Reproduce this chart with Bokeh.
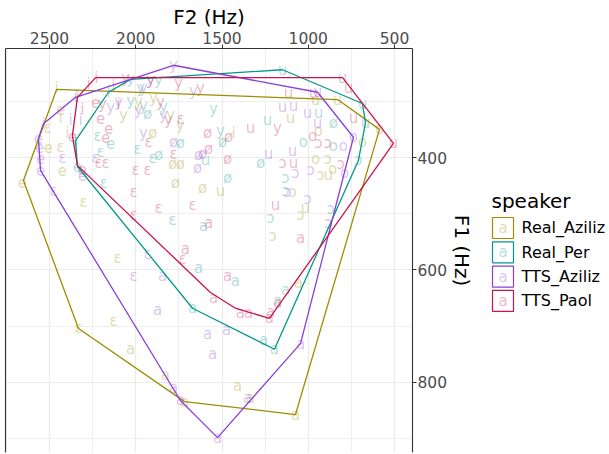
from bokeh.plotting import figure
from bokeh.models import Range1d, SingleIntervalTicker, ColumnDataSource, LinearAxis, FixedTicker
from bokeh.layouts import row
from bokeh.core.properties import value
from bokeh.embed import file_html
from bokeh.resources import INLINE

FONT = "DejaVu Sans"

speakers = ["Real_Aziliz", "Real_Per", "TTS_Aziliz", "TTS_Paol"]
colors = ["#A08C00", "#00998A", "#8C3FD6", "#C8144E"]

# ---- vowel tokens (label, F2 Hz, F1 Hz) ----
real_aziliz_vowel = ["i", "i", "i", "i", "e", "e", "e", "e", "ɛ", "ɛ", "ɛ", "ɛ", "ɛ", "ɛ",
                     "y", "y", "y", "y", "y", "ø", "ø", "ø", "ø", "ø",
                     "u", "u", "u", "u", "u", "u", "o", "o", "o", "o", "o",
                     "ɔ", "ɔ", "ɔ", "ɔ", "ɔ", "a", "a", "a", "a", "a", "a", "a"]
real_aziliz_f2 = [2459, 2436, 2396, 1433, 2436, 2506, 2425, 2657, 2512, 2436, 2303, 2106, 2129, 2332,
                  1984, 1897, 2071, 1799, 1741, 1903, 1787, 1741, 1770, 1613,
                  958, 830, 1103, 1509, 1016, 883, 941, 587, 686, 958, 859,
                  888, 929, 1091, 1045, 1207, 1057, 2030, 1828, 1717, 1410, 1335, 1074]
real_aziliz_f1 = [276, 329, 356, 356, 313, 382, 423, 443, 348, 382, 480, 578, 690, 704,
                  302, 295, 325, 325, 343, 356, 411, 411, 446, 455,
                  297, 297, 329, 459, 489, 432, 352, 350, 373, 402, 420,
                  402, 432, 462, 503, 539, 624, 740, 786, 834, 807, 828, 857]

real_per_vowel = ["i", "i", "e", "e", "ɛ", "ɛ", "ɛ", "ɛ", "ɛ", "ɛ",
                  "y", "y", "y", "y", "y", "y", "y", "y", "ø", "ø", "ø", "ø", "ø", "ø", "ø",
                  "u", "u", "u", "u", "u", "u", "o", "o", "ɔ", "ɔ", "ɔ", "ɔ", "ɔ",
                  "a", "a", "a", "a", "a", "a", "a", "a"]
real_per_f2 = [2349, 2158, 2146, 2338, 2204, 2222, 2187, 1990, 1903, 1787,
               2030, 1868, 1972, 2030, 1955, 1839, 1549, 1509, 1932, 1868, 1741, 1497, 1468, 1277, 854,
               1149, 1236, 941, 686, 668, 1596, 1028, 854, 709, 1132, 1132, 1219, 871,
               1607, 1636, 1422, 1132, 1671, 1259, 1196, 1178]
real_per_f1 = [370, 284, 375, 416, 391, 361, 446, 384, 400, 512,
               261, 263, 277, 299, 308, 311, 313, 352, 322, 396, 375, 373, 436, 409, 338,
               244, 334, 320, 304, 338, 405, 373, 379, 405, 436, 459, 508, 491,
               521, 596, 619, 636, 668, 725, 741, 655]

tts_aziliz_vowel = ["i", "i", "i", "i", "e", "e", "e", "e", "e", "ɛ", "ɛ", "ɛ", "ɛ", "ɛ",
                    "y", "y", "y", "y", "y", "y", "y", "y", "y", "ø", "ø", "ø", "ø",
                    "u", "u", "u", "u", "u", "u", "u", "o", "o", "o", "ɔ", "ɔ", "ɔ", "ɔ",
                    "a", "a", "a", "a", "a", "a", "a", "a", "a", "a"]
tts_aziliz_f2 = [2349, 2535, 2320, 2378, 2564, 2558, 2552, 2552, 2309, 2425, 2233, 2477, 1932, 2013,
                 1781, 1914, 1665, 1955, 2100, 2146, 1984, 1839, 1955, 1781, 1636, 1642, 1613,
                 946, 1149, 1086, 1004, 946, 1230, 1091, 738, 796, 790, 1074, 1120, 987, 1004,
                 1845, 1874, 1584, 1474, 1555, 1045, 1781, 1741, 1352, 1526]
tts_aziliz_f1 = [293, 340, 334, 334, 366, 382, 400, 423, 432, 400, 400, 459, 571, 610,
                 236, 263, 281, 277, 302, 311, 316, 325, 356, 373, 396, 418, 393,
                 284, 311, 308, 320, 338, 393, 388, 364, 379, 428, 428, 462, 423, 473,
                 610, 672, 713, 706, 749, 731, 809, 832, 827, 898]

tts_paol_vowel = ["i", "i", "i", "i", "i", "i", "e", "e", "e", "e", "e", "e",
                  "ɛ", "ɛ", "ɛ", "ɛ", "ɛ", "ɛ", "ɛ", "ɛ", "ɛ", "ɛ", "ɛ", "ɛ",
                  "y", "y", "y", "y", "y", "y", "y", "y", "ø", "ø", "ø", "ø",
                  "u", "u", "u", "u", "u", "u", "u", "u", "u", "o", "ɔ", "ɔ", "ɔ", "ɔ", "ɔ",
                  "a", "a", "a", "a", "a", "a", "a", "a", "a", "a"]
tts_paol_f2 = [2274, 2228, 2129, 2100, 2309, 2338, 2233, 2204, 2158, 2175, 2309, 2367,
               2216, 2175, 2001, 1932, 2013, 1868, 1671, 2013, 1729, 1741, 1781, 1926,
               2059, 1752, 1625, 1857, 2193, 1810, 1178, 1914, 1584, 1462, 1578, 1468,
               801, 767, 1115, 970, 738, 1335, 1086, 1190, 506, 975, 941, 888, 1149, 813, 883,
               1578, 1712, 1468, 1549, 1393, 1346, 1219, 1225, 1045, 1178]
tts_paol_f1 = [270, 258, 272, 304, 313, 293, 302, 329, 347, 364, 420, 361,
               409, 409, 423, 423, 462, 489, 485, 503, 580, 331, 393, 373,
               258, 267, 277, 302, 304, 334, 348, 263, 356, 364, 384, 402,
               258, 276, 286, 286, 329, 347, 409, 485, 375, 361, 375, 375, 409, 411, 517,
               517, 562, 610, 649, 677, 677, 675, 686, 544, 658]

# ---- convex hull outlines (F2 Hz, F1 Hz) ----
hull_real_aziliz_f2 = [2459, 830, 587, 1074, 1717, 2332, 2651]
hull_real_aziliz_f1 = [279, 297, 350, 857, 834, 704, 441]
hull_real_per_f2 = [2349, 2158, 2030, 1149, 686, 668, 709, 1196, 1671, 2338]
hull_real_per_f1 = [370, 284, 261, 244, 304, 338, 405, 741, 668, 416]
hull_tts_aziliz_f2 = [1781, 946, 738, 1045, 1526, 1741, 2552, 2564, 2535, 2349]
hull_tts_aziliz_f1 = [236, 284, 364, 731, 898, 832, 423, 366, 340, 293]
hull_tts_paol_f2 = [2233, 801, 506, 1225, 1422, 1567, 2338, 2367, 2338]
hull_tts_paol_f1 = [258, 258, 375, 686, 668, 640, 414, 361, 293]

tokens = [
    (real_aziliz_vowel, real_aziliz_f2, real_aziliz_f1),
    (real_per_vowel, real_per_f2, real_per_f1),
    (tts_aziliz_vowel, tts_aziliz_f2, tts_aziliz_f1),
    (tts_paol_vowel, tts_paol_f2, tts_paol_f1),
]
hulls = [
    (hull_real_aziliz_f2, hull_real_aziliz_f1),
    (hull_real_per_f2, hull_real_per_f1),
    (hull_tts_aziliz_f2, hull_tts_aziliz_f1),
    (hull_tts_paol_f2, hull_tts_paol_f1),
]

TXT_ALPHA = 0.33
H = 454

p = figure(width=480, height=H,
           x_range=Range1d(2755.1, 395.7), y_range=Range1d(924.5, 206.2),
           x_axis_location="above", y_axis_location="right",
           output_backend="svg", toolbar_location=None,
           min_border_left=5, min_border_top=48, min_border_right=68, min_border_bottom=2)
p.outline_line_color = None
p.background_fill_color = "white"
p.border_fill_color = "white"

xa = p.above[0]
ya = p.right[0]
xt = SingleIntervalTicker(interval=500, num_minor_ticks=2)
yt = SingleIntervalTicker(interval=200, num_minor_ticks=2)
xa.ticker = xt
ya.ticker = yt
p.xgrid[0].ticker = xt
p.ygrid[0].ticker = yt

for g in (p.xgrid[0], p.ygrid[0]):
    g.grid_line_color = "#EBEBEB"
    g.grid_line_width = 1.2
    g.minor_grid_line_color = "#EFEFEF"
    g.minor_grid_line_width = 1.0

for ax in (xa, ya):
    ax.axis_line_color = "#333333"
    ax.axis_line_width = 1.1
    ax.major_tick_line_color = "#333333"
    ax.major_tick_out = 4
    ax.major_tick_in = 0
    ax.minor_tick_line_color = None
    ax.minor_tick_out = 0
    ax.major_label_text_color = "#4D4D4D"
    ax.major_label_text_font = FONT
    ax.major_label_text_font_size = "15.5px"
    ax.axis_label_text_font = FONT
    ax.axis_label_text_font_size = "20px"
    ax.axis_label_text_font_style = "normal"
    ax.axis_label_text_color = "black"
xa.axis_label = "F2 (Hz)"
ya.axis_label = "F1 (Hz)"
xa.major_label_standoff = 1
xa.axis_label_standoff = 0
ya.major_label_standoff = 1
ya.axis_label_standoff = 0

left = LinearAxis(ticker=FixedTicker(ticks=[]), axis_line_color="#333333", axis_line_width=1.1,
                  major_tick_out=0, major_tick_in=0, minor_tick_out=0, minor_tick_in=0,
                  major_label_standoff=0, major_label_text_font_size="0px")
p.add_layout(left, "left")

for (vw, f2, f1), col in zip(tokens, colors):
    src = ColumnDataSource(dict(x=f2, y=f1, t=vw))
    p.text(x="x", y="y", text="t", source=src, text_color=col, text_alpha=TXT_ALPHA,
           text_font=value(FONT), text_font_size="15px",
           text_align="center", text_baseline="middle")

for (hx, hy), col in zip(hulls, colors):
    p.patch(x=hx, y=hy, fill_color=None, line_color=col, line_width=1.3)

# ---- legend panel (its frame is aligned with the main frame in the row) ----
n = len(speakers)
idx = list(range(n))
lg = figure(width=129, height=H, x_range=Range1d(0, 129), y_range=Range1d(9.239, -7.387),
            x_axis_type=None, y_axis_type=None, output_backend="svg", toolbar_location=None,
            min_border_left=0, min_border_right=0, min_border_top=48, min_border_bottom=2,
            title_location=None)
lg.outline_line_color = None
lg.grid.visible = False
lg.scatter(x=[22.5] * n, y=idx, marker="square", size=21, fill_color=None,
           line_color=colors, line_width=1.2)
lg.text(x=[22.5] * n, y=idx, text=["a"] * n, text_color=colors, text_alpha=TXT_ALPHA,
        text_font=value(FONT), text_font_size="15px", text_align="center", text_baseline="middle")
lg.text(x=[41] * n, y=idx, text=speakers, text_color="black",
        text_font=value(FONT), text_font_size="16px", text_align="left", text_baseline="middle")
lg.text(x=[11], y=[-1.1], text=["speaker"], text_color="black",
        text_font=value(FONT), text_font_size="20px", text_align="left", text_baseline="middle")

layout = row(p, lg)
open("out.html", "w").write(file_html(layout, INLINE))
